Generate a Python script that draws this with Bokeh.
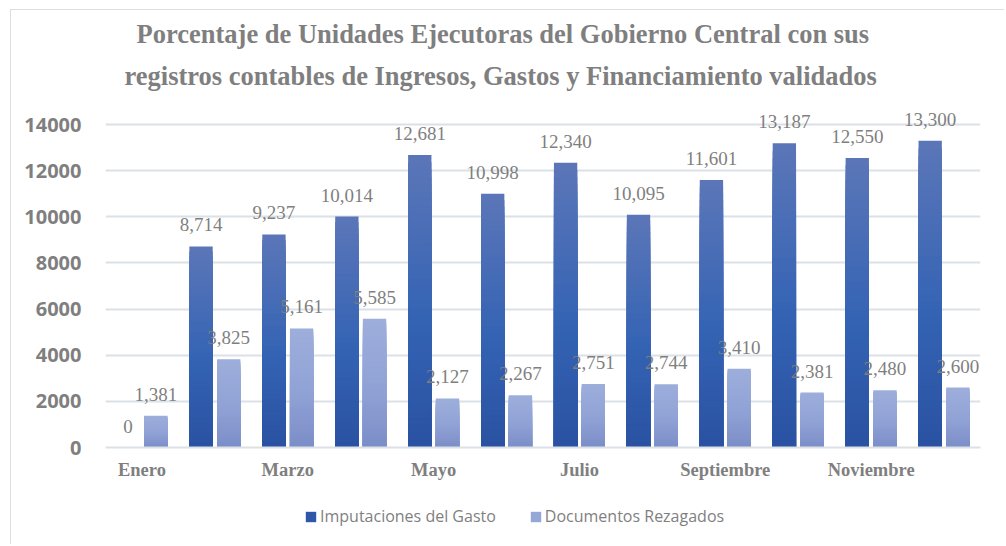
from bokeh.plotting import figure
from bokeh.layouts import column
from bokeh.models import (ColumnDataSource, Range1d, FixedTicker, Title, LabelSet,
                          Legend, LegendItem, NumeralTickFormatter, CustomJSTickFormatter)
from bokeh.transform import dodge
from bokeh.embed import file_html
from bokeh.resources import INLINE

# ---------------- data ----------------
meses = ["Enero", "Febrero", "Marzo", "Abril", "Mayo", "Junio", "Julio",
         "Agosto", "Septiembre", "Octubre", "Noviembre", "Diciembre"]
imputaciones = [0, 8714, 9237, 10014, 12681, 10998, 12340, 10095, 11601, 13187, 12550, 13300]
documentos = [1381, 3825, 5161, 5585, 2127, 2267, 2751, 2744, 3410, 2381, 2480, 2600]
etiquetas_eje = ["Enero", "", "Marzo", "", "Mayo", "", "Julio", "", "Septiembre", "", "Noviembre", ""]
y_ticks = [0, 2000, 4000, 6000, 8000, 10000, 12000, 14000]
titulo_1 = "Porcentaje de Unidades Ejecutoras del Gobierno Central con sus"
titulo_2 = "registros contables de Ingresos, Gastos y Financiamiento validados"
serie_1 = "Imputaciones del Gasto"
serie_2 = "Documentos Rezagados"

GRAY = "#7F7F7F"
GRID = "#DCE1E8"
FRAME = "#DADFE6"

stops_1 = [(0.0, (42, 81, 161)), (0.45, (52, 99, 180)), (1.0, (91, 118, 184))]
stops_2 = [(0.0, (123, 141, 199)), (0.5, (145, 163, 214)), (1.0, (157, 174, 219))]


def interp(stops, f):
    for (f0, c0), (f1, c1) in zip(stops[:-1], stops[1:]):
        if f0 <= f <= f1:
            t = (f - f0) / (f1 - f0) if f1 > f0 else 0
            c = [round(a + (b - a) * t) for a, b in zip(c0, c1)]
            return "#%02x%02x%02x" % tuple(c)
    return "#%02x%02x%02x" % stops[-1][1]


N = 40


def gradient_source(values, stops):
    xs, tops, colors = [], [], []
    for k in range(N):
        f = 1 - k / N
        col = interp(stops, f)
        for m, v in zip(meses, values):
            xs.append(m)
            tops.append(v * f)
            colors.append(col)
    return ColumnDataSource(dict(mes=xs, top=tops, color=colors))


chart_border = {
    "background-image": f"linear-gradient({FRAME},{FRAME}), linear-gradient({FRAME},{FRAME})",
    "background-size": "calc(100% - 10px) 1px, 1px calc(100% - 9px)",
    "background-position": "10px 9px, 10px 9px",
    "background-repeat": "no-repeat",
}
legend_border = {
    "background-image": f"linear-gradient({FRAME},{FRAME})",
    "background-size": "1px 100%",
    "background-position": "10px 0px",
    "background-repeat": "no-repeat",
}

p = figure(x_range=meses, y_range=Range1d(0, 15000), frame_width=875, frame_height=346,
           output_backend="svg", toolbar_location=None, title=None,
           min_border_left=105, min_border_right=24, min_border_top=101,
           min_border_bottom=40, styles=chart_border)
p.outline_line_color = None
p.background_fill_color = None
p.border_fill_color = None

OFF = 0.19
W = 0.32

src1 = gradient_source(imputaciones, stops_1)
src2 = gradient_source(documentos, stops_2)
p.vbar(x=dodge("mes", -OFF, range=p.x_range), top="top", width=W, source=src1,
       fill_color="color", line_color=None)
p.vbar(x=dodge("mes", OFF, range=p.x_range), top="top", width=W, source=src2,
       fill_color="color", line_color=None)

lab_src = ColumnDataSource(dict(
    mes=meses,
    v1=imputaciones, v2=documentos,
    t1=[f"{v:,}" for v in imputaciones],
    t2=[f"{v:,}" for v in documentos],
))
for col_v, col_t, off in (("v1", "t1", -OFF), ("v2", "t2", OFF)):
    p.add_layout(LabelSet(x=dodge("mes", off, range=p.x_range), y=col_v, text=col_t,
                          source=lab_src, text_align="center", text_baseline="alphabetic",
                          y_offset=15, text_font="Liberation Serif",
                          text_font_size="19px", text_color=GRAY))

p.yaxis.ticker = FixedTicker(ticks=y_ticks)
p.yaxis.formatter = NumeralTickFormatter(format="0")
p.yaxis.axis_line_color = None
p.yaxis.major_tick_line_color = None
p.yaxis.minor_tick_line_color = None
p.yaxis.major_label_standoff = 18
p.yaxis.major_label_text_font = "Open Sans"
p.yaxis.major_label_text_font_style = "bold"
p.yaxis.major_label_text_font_size = "20px"
p.yaxis.major_label_text_color = GRAY

p.xaxis.axis_line_color = GRID
p.xaxis.axis_line_width = 2
p.xaxis.major_tick_line_color = None
p.xaxis.minor_tick_line_color = None
p.xaxis.major_label_standoff = 6
p.xaxis.formatter = CustomJSTickFormatter(
    args=dict(mes=meses, etq=etiquetas_eje),
    code="const i = mes.indexOf(tick); return i >= 0 ? etq[i] : tick;")
p.xaxis.major_label_text_font = "Liberation Serif"
p.xaxis.major_label_text_font_style = "bold"
p.xaxis.major_label_text_font_size = "18.5px"
p.xaxis.major_label_text_color = GRAY

p.xgrid.grid_line_color = None
p.ygrid.grid_line_color = GRID
p.ygrid.grid_line_width = 2

for txt, so, off in ((titulo_2, 21, 19), (titulo_1, 0, 31)):
    p.add_layout(Title(text=txt, align="left", offset=off, text_font="Liberation Serif",
                       text_font_style="bold", text_font_size="26.5px",
                       text_color=GRAY, standoff=so), "above")

# legend in its own strip below the chart
p2 = figure(width=1004, height=57, x_range=Range1d(0, 1), y_range=Range1d(0, 1),
            output_backend="svg", toolbar_location=None, title=None,
            min_border=0, styles=legend_border)
p2.axis.visible = False
p2.grid.visible = False
p2.outline_line_color = None
p2.background_fill_color = None
p2.border_fill_color = None
leg1 = p2.vbar(x=[0.5], top=[0], width=0.1, fill_color="#2E57A9", line_color=None)
leg2 = p2.vbar(x=[0.5], top=[0], width=0.1, fill_color="#95A7D7", line_color=None)
legend = Legend(items=[LegendItem(label=serie_1, renderers=[leg1]),
                       LegendItem(label=serie_2, renderers=[leg2])],
                orientation="horizontal", location=(199, 17),
                glyph_width=13, glyph_height=13, label_standoff=3, spacing=33,
                label_text_font="Open Sans", label_text_font_size="16px",
                label_text_color=GRAY, border_line_color=None,
                background_fill_alpha=0, padding=6, margin=0)
p2.add_layout(legend, "center")

layout = column(p, p2, spacing=0)
open("out.html", "w").write(file_html(layout, INLINE))
